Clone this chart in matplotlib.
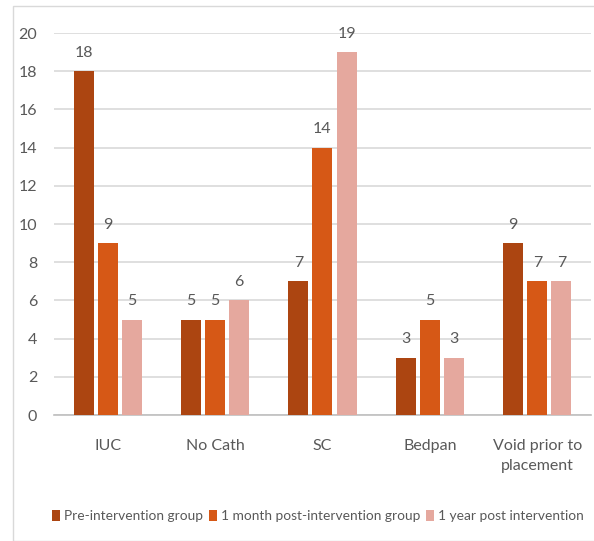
import matplotlib
matplotlib.use("Agg")
import matplotlib.pyplot as plt
from matplotlib.patches import Rectangle
import numpy as np

categories = ["IUC", "No Cath", "SC", "Bedpan", "Void prior to\nplacement"]
series_names = ["Pre-intervention group", "1 month post-intervention group", "1 year post intervention"]
pre = [18, 5, 7, 3, 9]
month1 = [9, 5, 14, 5, 7]
year1 = [5, 6, 19, 3, 7]
colors = ["#AC4511", "#D65816", "#E5A89E"]
yticks = [0, 2, 4, 6, 8, 10, 12, 14, 16, 18, 20]

plt.rcParams['font.family'] = ['Lato', 'DejaVu Sans']
txt = "#595959"

fig = plt.figure(figsize=(5.94, 5.41), dpi=100)
ax = fig.add_axes([0.0909, 0.2329, 0.904, 0.706])

x = np.arange(len(categories))
w = 0.186
off = 0.224
for i, (vals, c, name) in enumerate(zip([pre, month1, year1], colors, series_names)):
    bars = ax.bar(x + (i - 1) * off, vals, w, color=c, label=name, zorder=3)
    for b, v in zip(bars, vals):
        ax.text(b.get_x() + b.get_width() / 2, v + 0.6, str(v), ha="center", va="bottom",
                fontsize=11.5, color=txt)

ax.set_xlim(-0.5, 4.5)
ax.set_ylim(0, 20)
ax.set_yticks(yticks)
ax.set_xticks(x)
ax.set_xticklabels(categories, fontsize=11.5, color=txt, linespacing=1.55)
ax.tick_params(axis="y", labelsize=11.5, colors=txt, length=0, pad=12)
ax.tick_params(axis="x", length=0, pad=17)
ax.yaxis.grid(True, color="#D9D9D9", linewidth=1.2, zorder=0)
for s in ["top", "right", "left"]:
    ax.spines[s].set_visible(False)
ax.spines["bottom"].set_color("#BFBFBF")
ax.spines["bottom"].set_linewidth(1.2)
ax.set_axisbelow(True)

leg = fig.legend(loc="center", bbox_to_anchor=(0.535, 0.046), ncol=3, frameon=False,
                 fontsize=9.9, handlelength=0.6, handleheight=0.9, handletextpad=0.3,
                 columnspacing=0.4, labelcolor=txt)

fig.patches.append(Rectangle((13 / 594, 0.0), 1.0, 1 - 6 / 541, transform=fig.transFigure,
                             fill=False, edgecolor="#D9D9D9", linewidth=1.0))

fig.savefig("out.png", dpi=100)
